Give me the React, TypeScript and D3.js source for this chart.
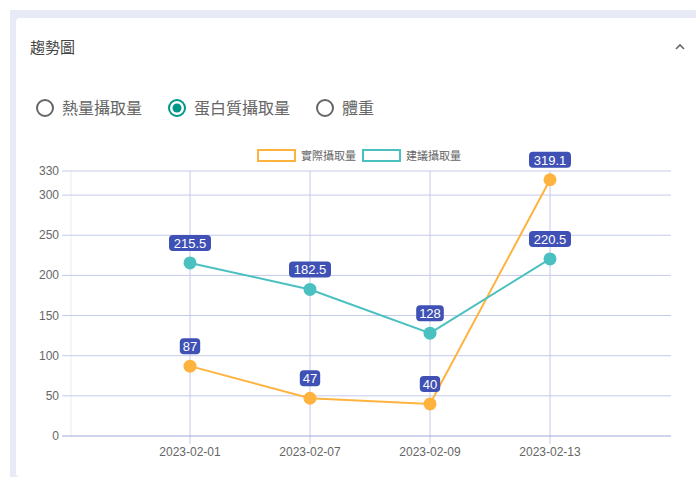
import * as d3 from "d3";

const dates = ["2023-02-01", "2023-02-07", "2023-02-09", "2023-02-13"];
const actualIntake = [87, 47, 40, 319.1];
const suggestedIntake = [215.5, 182.5, 128, 220.5];
const yTicks = [0, 50, 100, 150, 200, 250, 300, 330];
const seriesNames = ["實際攝取量", "建議攝取量"];
const radioOptions = ["熱量攝取量", "蛋白質攝取量", "體重"];

const W = 696;
const H = 477;
const FONT = "Roboto, 'Noto Sans CJK TC', sans-serif";
const CHART_FONT = "'Liberation Sans', Arial, 'Noto Sans CJK TC', sans-serif";
const ORANGE = "#ffb33f";
const TEAL = "#4bc0c0";
const LABEL_BG = "#3f51b5";
const GRID = "#c5cae9";

function App() {
  const x = d3.scalePoint<string>().domain(dates).range([70, 670]).padding(1);
  const y = d3.scaleLinear().domain([0, 330]).range([436, 171]);

  const series = [
    { name: seriesNames[0], values: actualIntake, color: ORANGE },
    { name: seriesNames[1], values: suggestedIntake, color: TEAL },
  ];

  const line = d3
    .line<number>()
    .x((_, i) => x(dates[i]) as number)
    .y((d) => y(d));

  // radio button x positions (circle centers)
  const radioX = [45, 177, 325];

  return (
    <div style={{ position: "fixed", left: 0, top: 0, width: W, height: H, background: "#fff" }}>
      <svg width={W} height={H} style={{ display: "block", fontFamily: FONT }}>
        <rect x={10} y={10} width={W - 10} height={H - 10} fill="#e8eaf6" />
        <rect x={16} y={18} width={W - 10} height={H - 18} rx={4} fill="#fff" />

        {/* header */}
        <text x={30} y={53} fontSize={15} fill="#444">趨勢圖</text>
        <path d="M676,49 L680,45 L684,49" fill="none" stroke="#666" strokeWidth={1.6} />

        {/* radio group */}
        {radioOptions.map((opt, i) => (
          <g key={opt}>
            <circle
              cx={radioX[i]}
              cy={108}
              r={8}
              fill="#fff"
              stroke={i === 1 ? "#009688" : "#666"}
              strokeWidth={2}
            />
            {i === 1 && <circle cx={radioX[i]} cy={108} r={4.5} fill="#009688" />}
            <text x={radioX[i] + 17} y={114} fontSize={16} fill="#666">
              {opt}
            </text>
          </g>
        ))}

        <g style={{ fontFamily: CHART_FONT }}>
          {/* legend */}
          {series.map((s, i) => {
            const lx = 258 + i * 105;
            return (
              <g key={s.name}>
                <rect x={lx} y={150} width={37} height={11} fill="#fff" stroke={s.color} strokeWidth={2} />
                <text x={lx + 43} y={160} fontSize={11} fill="#666">
                  {s.name}
                </text>
              </g>
            );
          })}

          {/* grid */}
          <line x1={71} x2={71} y1={171} y2={436} stroke="#ececf4" />
          {dates.map((d) => (
            <line key={d} x1={x(d)} x2={x(d)} y1={171} y2={444} stroke={GRID} />
          ))}
          {yTicks.map((t) => (
            <g key={t}>
              <line
                x1={62}
                x2={671}
                y1={y(t)}
                y2={y(t)}
                stroke={t === 0 ? "#9fa8da" : GRID}
                strokeWidth={1}
              />
              <text x={59} y={y(t) + 4} fontSize={12} fill="#666" textAnchor="end">
                {t}
              </text>
            </g>
          ))}
          {dates.map((d) => (
            <text key={d} x={x(d)} y={456} fontSize={12} fill="#666" textAnchor="middle">
              {d}
            </text>
          ))}

          {/* lines and points */}
          {series.map((s) => (
            <g key={s.name}>
              <path d={line(s.values) ?? ""} fill="none" stroke={s.color} strokeWidth={2} />
              {s.values.map((v, i) => (
                <circle key={i} cx={x(dates[i])} cy={y(v)} r={6.5} fill={s.color} />
              ))}
            </g>
          ))}

          {/* data labels */}
          {series.map((s) =>
            s.values.map((v, i) => {
              const label = String(v);
              const w = label.length * 7.2 + 6;
              const cx = x(dates[i]) as number;
              const cy = y(v) - 20;
              return (
                <g key={s.name + i}>
                  <rect x={cx - w / 2} y={cy - 8} width={w} height={16} rx={4} fill={LABEL_BG} />
                  <text x={cx} y={cy + 5} fontSize={13} fill="#fff" textAnchor="middle">
                    {label}
                  </text>
                </g>
              );
            })
          )}
        </g>
      </svg>
    </div>
  );
}

export default App;
